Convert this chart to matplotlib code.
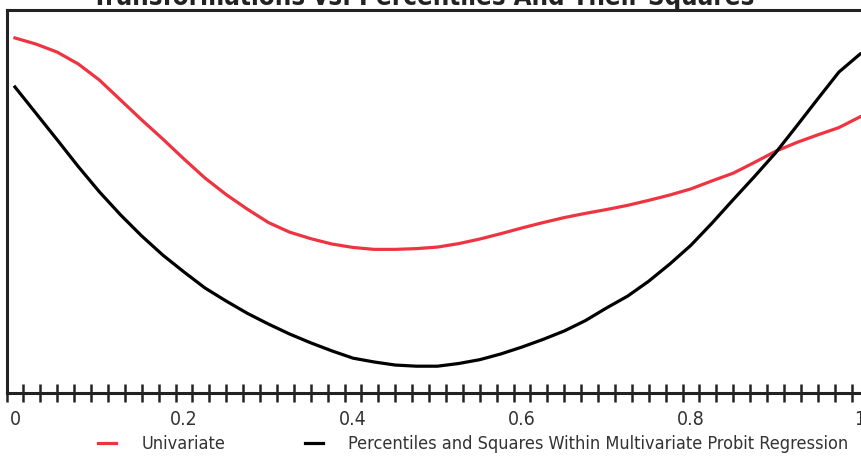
import numpy as np
import matplotlib
matplotlib.use('Agg')
import matplotlib.pyplot as plt
from matplotlib.ticker import FixedLocator

# percentile positions
pct = [0.0, 0.025, 0.05, 0.075, 0.10, 0.125, 0.15, 0.175, 0.20, 0.225, 0.25,
       0.275, 0.30, 0.325, 0.35, 0.375, 0.40, 0.425, 0.45, 0.475, 0.50,
       0.525, 0.55, 0.575, 0.60, 0.625, 0.65, 0.675, 0.70, 0.725, 0.75,
       0.775, 0.80, 0.825, 0.85, 0.875, 0.90, 0.925, 0.95, 0.975, 1.0]

univariate = [92.7, 91.1, 89.0, 85.9, 81.7, 76.5, 71.3, 66.3, 61.1, 56.1, 51.8,
              48.0, 44.5, 42.0, 40.3, 38.9, 38.0, 37.5, 37.5, 37.7, 38.1,
              39.0, 40.2, 41.6, 43.1, 44.5, 45.8, 46.9, 47.9, 49.0, 50.3,
              51.7, 53.3, 55.4, 57.4, 60.2, 63.1, 65.4, 67.4, 69.3, 72.1]

multivariate = [79.9, 73.0, 66.1, 59.1, 52.5, 46.5, 41.0, 36.0, 31.6, 27.4, 24.0,
                20.8, 18.0, 15.4, 13.1, 11.0, 9.1, 8.1, 7.3, 7.0, 7.0,
                7.7, 8.7, 10.2, 12.0, 14.0, 16.2, 18.9, 22.2, 25.3, 29.2,
                33.7, 38.6, 44.4, 50.5, 56.5, 62.7, 69.7, 76.8, 83.8, 88.5]

labels = ['Univariate', 'Percentiles and Squares Within Multivariate Probit Regression']
colors = ['#ee3441', '#000000']
xtick_labels = ['0', '0.2', '0.4', '0.6', '0.8', '1']

plt.rcParams['font.family'] = ['DejaVu Sans']
plt.rcParams['font.stretch'] = 'condensed'

fig = plt.figure(figsize=(8.61, 4.58), dpi=100)
ax = fig.add_axes([6.5 / 861, 65 / 458, 862 / 861, 383 / 458])

ax.plot(pct, univariate, color=colors[0], lw=2.3, label=labels[0])
ax.plot(pct, multivariate, color=colors[1], lw=2.3, label=labels[1])

ax.set_xlim(-0.01, 1.01)
ax.set_ylim(0, 100)

ax.xaxis.set_major_locator(FixedLocator(np.linspace(0, 1, 6)))
ax.set_xticklabels(xtick_labels)
ax.xaxis.set_minor_locator(FixedLocator(np.arange(-0.01, 1.02, 0.02)))
ax.tick_params(axis='x', which='major', length=0, pad=12, labelsize=14, labelcolor='#333333')
ax.tick_params(axis='x', which='minor', direction='inout', length=13, width=1.8, color='#222222')
ax.set_yticks([])

for spine in ['top', 'left', 'bottom']:
    ax.spines[spine].set_linewidth(2.2)
    ax.spines[spine].set_color('#222222')
ax.spines['right'].set_visible(False)

fig.text(423 / 861, 1 - 5 / 458, 'Transformations vs. Percentiles And Their Squares',
         ha='center', va='baseline', fontsize=18.5, fontweight='bold', color='#222222')

fig.legend(loc='center', bbox_to_anchor=(473 / 861, 14 / 458), ncol=2, frameon=False,
           fontsize=13, handlelength=1.0, handletextpad=1.4, columnspacing=4.4,
           labelcolor='#333333')

fig.savefig('out.png', dpi=100)
